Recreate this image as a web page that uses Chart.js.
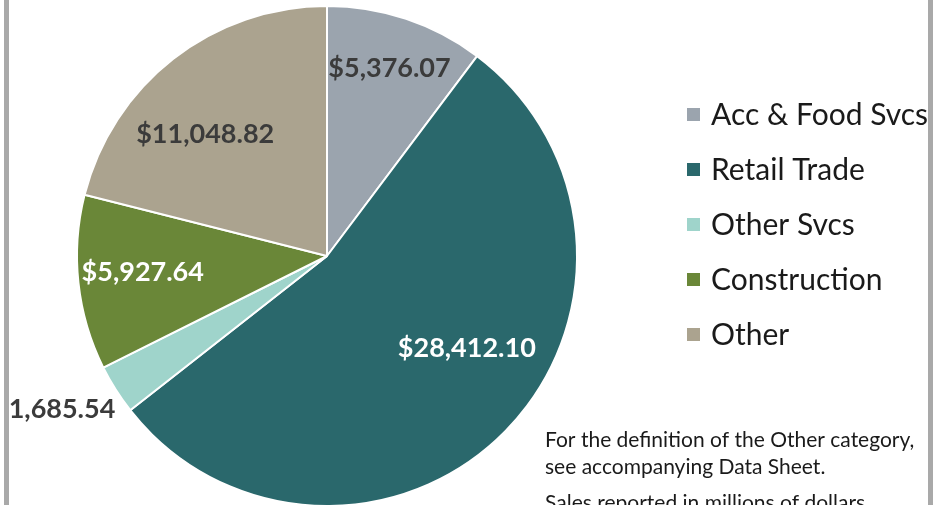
<!DOCTYPE html>
<html>
<head>
<meta charset="utf-8">
<script src="https://cdn.jsdelivr.net/npm/chart.js@4.4.1/dist/chart.umd.min.js"></script>
<style>
  html, body { margin: 0; padding: 0; background: #fff; overflow: hidden; }
  #wrap { position: relative; width: 933px; height: 505px; overflow: hidden; }
  #salesPie { position: absolute; left: 0; top: 0; }
  .edge { position: absolute; top: 0; width: 5px; height: 505px; background: #a9a9a9; }
  .blank { position: absolute; top: 0; left: 0; width: 4px; height: 505px; background: #fff; }
</style>
</head>
<body>
<div id="wrap">
  <canvas id="salesPie" width="933" height="530"></canvas>
  <div class="blank"></div>
  <div class="edge" style="left:4px"></div>
  <div class="edge" style="left:928px"></div>
</div>
<script>
// Sales by sector (millions of dollars)
let sectors = ["Acc & Food Svcs", "Retail Trade", "Other Svcs", "Construction", "Other"];
let sales = [5376.07, 28412.10, 1685.54, 5927.64, 11048.82];
let sliceColors = ["#9ba4ae", "#2a686c", "#9fd4cb", "#6a8738", "#aba38f"];
let footnotes = [
    "For the definition of the Other category,",
    "see accompanying Data Sheet.",
    "Sales reported in millions of dollars."
];

// label placement: extra angle (deg) and distance as share of radius
let labelShift = [0, -11, 2.96, 1, -7];
let labelDist = [0.79, 0.67, 1.252, 0.74, 0.69];
let labelInk = ["#3b3b3b", "#ffffff", "#3b3b3b", "#ffffff", "#3b3b3b"];

let fmtMoney = (v) => "$" + v.toLocaleString("en-US", {minimumFractionDigits: 2, maximumFractionDigits: 2});

// draws value labels on the slices
let sliceLabels = {
    id: "sliceLabels",
    afterDatasetsDraw: (chart) => {
        let ctx = chart.ctx;
        let arcs = chart.getDatasetMeta(0).data;
        ctx.save();
        ctx.font = "bold 27px Lato";
        ctx.textAlign = "center";
        ctx.textBaseline = "middle";
        arcs.forEach((arc, i) => {
            let mid = (arc.startAngle + arc.endAngle) / 2 + labelShift[i] * Math.PI / 180;
            let r = arc.outerRadius * labelDist[i];
            ctx.fillStyle = labelInk[i];
            ctx.fillText(fmtMoney(sales[i]), arc.x + Math.cos(mid) * r, arc.y + Math.sin(mid) * r);
        });
        ctx.restore();
    }
};

// legend on the right and the notes below it
let sideText = {
    id: "sideText",
    afterDraw: (chart) => {
        let ctx = chart.ctx;
        ctx.save();
        ctx.textBaseline = "middle";
        ctx.textAlign = "left";
        ctx.font = "30px Lato";
        sectors.forEach((name, i) => {
            let y = 114 + i * 55;
            ctx.fillStyle = sliceColors[i];
            ctx.fillRect(687, y - 6, 13, 13);
            ctx.fillStyle = "#1a1a1a";
            ctx.fillText(name, 711, y + 1);
        });
        ctx.font = "21px Lato";
        ctx.fillStyle = "#1a1a1a";
        footnotes.forEach((line, i) => {
            ctx.fillText(line, 545, 440 + i * 27 + (i == 2 ? 9 : 0));
        });
        ctx.restore();
    }
};

let context = document.getElementById("salesPie").getContext("2d");
window.salesPieChart = new Chart(context, {
    type: "pie",
    data: {
        labels: sectors,
        datasets: [{
            data: sales,
            backgroundColor: sliceColors,
            borderColor: "#ffffff",
            borderWidth: 2
        }]
    },
    options: {
        responsive: false,
        animation: false,
        layout: { padding: { left: 76, top: 5, right: 355, bottom: 23 } },
        plugins: {
            legend: { display: false },
            tooltip: { enabled: false }
        }
    },
    plugins: [sliceLabels, sideText]
});
</script>
</body>
</html>
